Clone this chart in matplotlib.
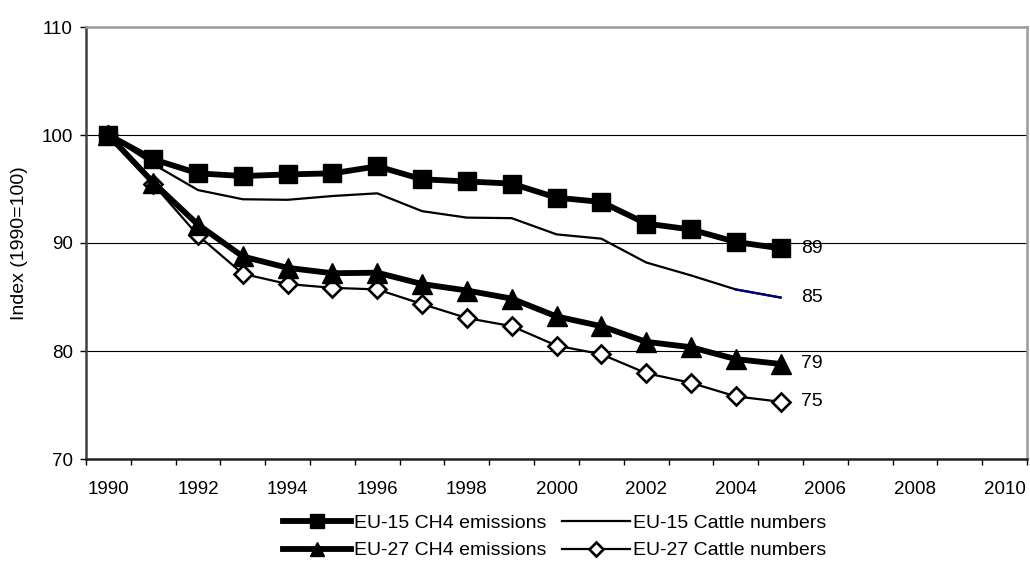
import matplotlib
matplotlib.use("Agg")
import matplotlib.pyplot as plt
from matplotlib.ticker import FixedLocator, NullFormatter

plt.rcParams['font.family'] = ['Liberation Sans', 'DejaVu Sans']

years = list(range(1990, 2006))
eu15_ch4 = [100, 97.75, 96.45, 96.2, 96.35, 96.45, 97.1, 95.9, 95.7, 95.5,
            94.2, 93.8, 91.8, 91.25, 90.1, 89.5]
eu15_cattle = [100, 97.3, 94.9, 94.05, 94.0, 94.35, 94.6, 92.95, 92.35, 92.3,
               90.8, 90.4, 88.2, 87.0, 85.7, 84.95]
eu27_ch4 = [100, 95.6, 91.7, 88.75, 87.7, 87.2, 87.25, 86.2, 85.6, 84.85,
            83.2, 82.3, 80.85, 80.35, 79.25, 78.8]
eu27_cattle = [100, 95.45, 90.7, 87.15, 86.2, 85.85, 85.7, 84.35, 83.05, 82.3,
               80.5, 79.7, 77.95, 77.05, 75.8, 75.3]

series_names = ["EU-15 CH4 emissions", "EU-15 Cattle numbers",
                "EU-27 CH4 emissions", "EU-27 Cattle numbers"]
end_labels = ["89", "85", "79", "75"]

year_ticks = list(range(1990, 2011, 2))
y_ticks = [70, 80, 90, 100, 110]

W, H = 1030, 562
fig = plt.figure(figsize=(W / 100, H / 100), dpi=100)
ax_left, ax_right, ax_top, ax_bottom = 86, 1027, 27, 459
ax = fig.add_axes([ax_left / W, 1 - ax_bottom / H,
                   (ax_right - ax_left) / W, (ax_bottom - ax_top) / H])

# gridlines behind the data
for yv in y_ticks[1:-1]:
    ax.axhline(yv, color='black', lw=0.8, zorder=1)

l_e15, = ax.plot(years, eu15_ch4, color='black', lw=4.2, marker='s',
                 markersize=13.5, markerfacecolor='black', markeredgecolor='black',
                 zorder=5, label=series_names[0])
l_c15, = ax.plot(years, eu15_cattle, color='black', lw=1.6, zorder=4,
                 label=series_names[1])
# last segment of the EU-15 cattle series is drawn in navy
ax.plot(years[-2:], eu15_cattle[-2:], color='#000080', lw=1.6, zorder=4)
l_e27, = ax.plot(years, eu27_ch4, color='black', lw=4.2, marker='^',
                 markersize=14, markerfacecolor='black', markeredgecolor='black',
                 zorder=5, label=series_names[2])
l_c27, = ax.plot(years, eu27_cattle, color='black', lw=1.6, marker='D',
                 markersize=9.5, markerfacecolor='white', markeredgecolor='black',
                 markeredgewidth=1.9, zorder=4, label=series_names[3])

for vals, txt in zip([eu15_ch4, eu15_cattle, eu27_ch4, eu27_cattle], end_labels):
    ax.annotate(txt, xy=(years[-1], vals[-1]), xytext=(14.5, 0),
                textcoords='offset points', ha='left', va='center',
                fontsize=14, color='black')

ax.set_xlim(1989.5, 2010.5)
ax.set_ylim(70, 110)

# category axis: tick marks at boundaries, labels centred on even years
ax.xaxis.set_major_locator(FixedLocator(year_ticks))
ax.set_xticklabels([str(y) for y in year_ticks])
ax.xaxis.set_minor_locator(FixedLocator([y + 0.5 for y in range(1989, 2011)]))
ax.xaxis.set_minor_formatter(NullFormatter())
ax.tick_params(axis='x', which='major', length=0, pad=16, labelsize=13.5)
ax.tick_params(axis='x', which='minor', length=4.5, width=1.0, direction='out')

ax.set_yticks(y_ticks)
ax.tick_params(axis='y', which='major', length=4.5, width=1.0, direction='out',
               pad=5, labelsize=13.5)
fig.text(20 / W, 1 - 243 / H, "Index (1990=100)", rotation=90,
         ha='center', va='center', fontsize=14)

ax.spines['left'].set_color('#404040')
ax.spines['left'].set_linewidth(1.8)
ax.spines['bottom'].set_color('#202020')
ax.spines['bottom'].set_linewidth(1.8)
ax.spines['top'].set_color('#9a9a9a')
ax.spines['top'].set_linewidth(1.8)
ax.spines['right'].set_color('#9a9a9a')
ax.spines['right'].set_linewidth(1.8)

leg = fig.legend(handles=[l_e15, l_e27, l_c15, l_c27], ncol=2,
                 loc='center', bbox_to_anchor=(555 / W, 1 - 537 / H),
                 frameon=False, fontsize=14, handlelength=3.5,
                 handletextpad=0.15, columnspacing=0.8, labelspacing=0.5,
                 markerscale=0.75, borderpad=0)

fig.savefig("out.png", dpi=100)
